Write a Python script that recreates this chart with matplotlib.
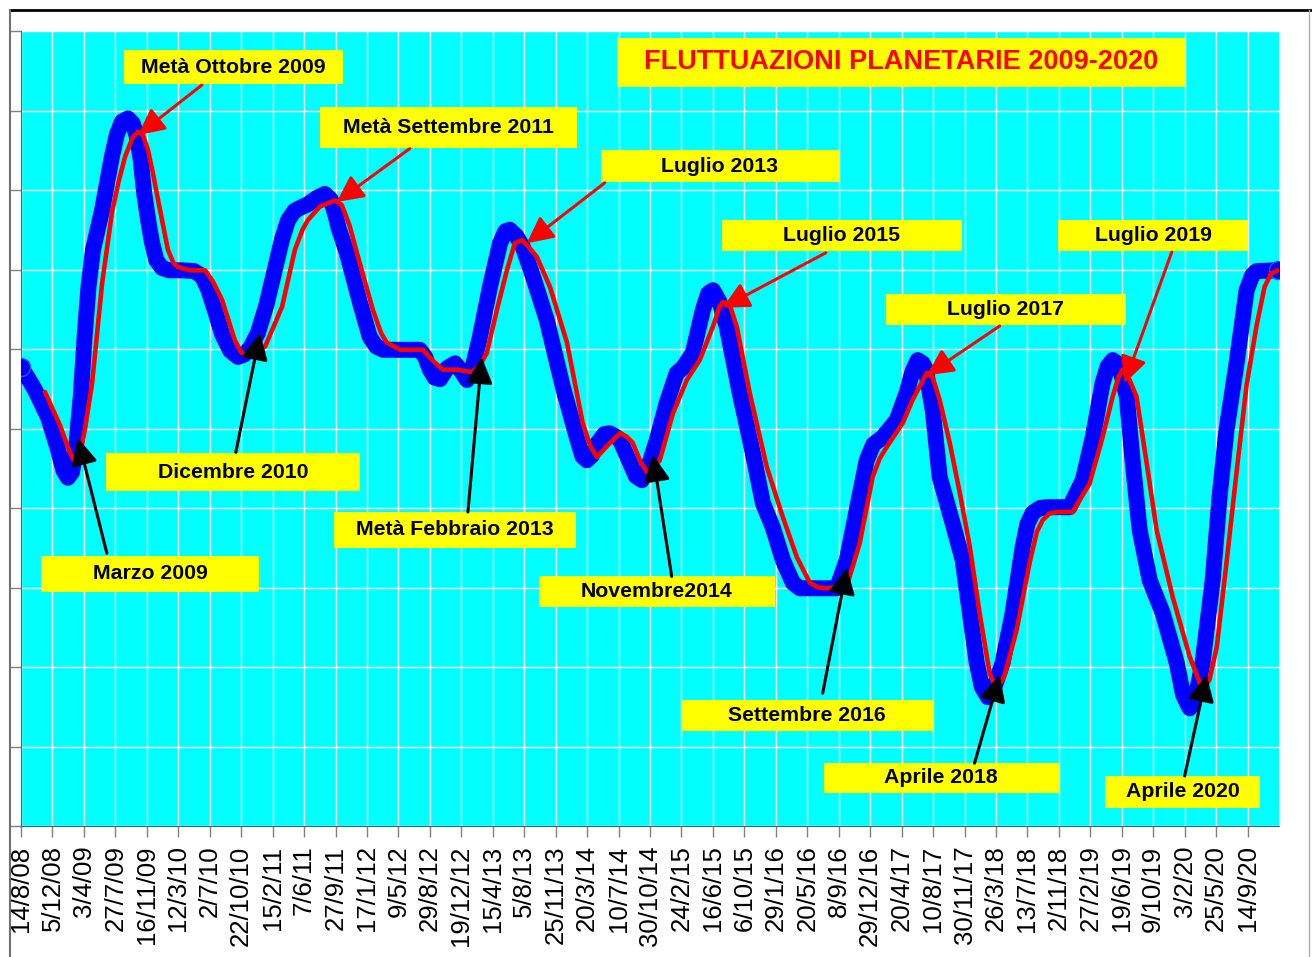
import matplotlib.pyplot as plt
from matplotlib.patches import Rectangle
from matplotlib.lines import Line2D

plt.rcParams["font.family"] = "Liberation Sans"

####### Dati: etichette asse x (una ogni ~16 settimane)
date_labels = ['14/8/08', '5/12/08', '3/4/09', '27/7/09', '16/11/09', '12/3/10',
               '2/7/10', '22/10/10', '15/2/11', '7/6/11', '27/9/11', '17/1/12',
               '9/5/12', '29/8/12', '19/12/12', '15/4/13', '5/8/13', '25/11/13',
               '20/3/14', '10/7/14', '30/10/14', '24/2/15', '16/6/15', '6/10/15',
               '29/1/16', '20/5/16', '8/9/16', '29/12/16', '20/4/17', '10/8/17',
               '30/11/17', '26/3/18', '13/7/18', '2/11/18', '27/2/19', '19/6/19',
               '9/10/19', '3/2/20', '25/5/20', '14/9/20']

# serie blu (posizione in intervalli dell'asse, valore)
blue_x = [0.00, 0.20, 0.45, 0.86, 1.18, 1.35, 1.49, 1.62, 1.75, 1.90, 2.03, 2.15,
          2.29, 2.58, 2.89, 3.05, 3.21, 3.40, 3.55, 3.68, 3.80, 3.92, 4.05, 4.16,
          4.30, 4.48, 4.70, 5.12, 5.50, 5.75, 5.95, 6.17, 6.40, 6.65, 6.90, 7.10,
          7.30, 7.53, 7.80, 8.07, 8.30, 8.49, 8.70, 8.90, 9.12, 9.40, 9.66, 9.85,
          10.00, 10.10, 10.36, 10.78, 11.09, 11.30, 11.51, 12.68, 12.85, 13.00,
          13.15, 13.32, 13.55, 13.80, 14.00, 14.18, 14.35, 14.59, 14.91, 15.23,
          15.40, 15.54, 15.75, 15.96, 16.28, 16.72, 17.23, 17.67, 17.85, 17.99,
          18.15, 18.34, 18.55, 18.72, 18.90, 19.04, 19.36, 19.55, 19.74, 19.95,
          20.22, 20.53, 20.85, 21.04, 21.36, 21.68, 21.85, 22.00, 22.20, 22.44,
          22.85, 23.27, 23.59, 23.90, 24.22, 24.54, 24.76, 25.94, 26.26, 26.57,
          26.89, 27.10, 27.40, 27.85, 28.16, 28.35, 28.51, 28.67, 28.77, 28.99,
          29.21, 29.53, 29.94, 30.17, 30.39, 30.55, 30.74, 30.95, 31.21, 31.53,
          31.85, 32.00, 32.17, 32.40, 32.61, 33.34, 33.76, 34.08, 34.39, 34.55,
          34.71, 34.85, 34.97, 35.16, 35.35, 35.57, 35.89, 36.30, 36.75, 36.95,
          37.16, 37.35, 37.57, 37.89, 38.11, 38.33, 38.65, 38.97, 39.15, 39.29,
          39.96]
blue_y = [5.77, 5.65, 5.48, 5.14, 4.73, 4.47, 4.38, 4.45, 4.75, 5.40, 6.20, 6.80,
          7.25, 7.75, 8.42, 8.70, 8.86, 8.90, 8.84, 8.68, 8.40, 7.95, 7.60, 7.35,
          7.12, 7.02, 6.99, 6.99, 6.98, 6.92, 6.75, 6.48, 6.18, 5.98, 5.90, 5.93,
          6.02, 6.20, 6.55, 7.00, 7.38, 7.62, 7.74, 7.78, 7.82, 7.90, 7.95, 7.88,
          7.68, 7.52, 7.21, 6.58, 6.15, 6.03, 5.99, 5.99, 5.90, 5.74,
          5.64, 5.62, 5.76, 5.82, 5.72, 5.61, 5.75, 6.15, 6.78, 7.33,
          7.48, 7.50, 7.42, 7.28, 6.91, 6.36, 5.52, 4.89, 4.65, 4.60,
          4.66, 4.82, 4.93, 4.94, 4.90, 4.86, 4.57, 4.40, 4.35, 4.52,
          4.86, 5.32, 5.70, 5.76, 5.95, 6.49, 6.70, 6.74, 6.60, 6.28,
          5.45, 4.69, 4.06, 3.76, 3.35, 3.06, 2.99, 2.99, 3.35, 3.97,
          4.60, 4.80, 4.89, 5.11, 5.45, 5.72, 5.86, 5.82, 5.74, 5.23,
          4.39, 3.94, 3.35, 2.68, 2.05, 1.75, 1.62, 1.75, 2.05, 2.68,
          3.51, 3.80, 3.94, 4.00, 4.01, 4.01, 4.35, 4.89, 5.57, 5.78,
          5.86, 5.82, 5.71, 5.40, 4.57, 3.72, 3.09, 2.68, 2.05, 1.65,
          1.48, 1.62, 2.05, 3.09, 4.14, 4.98, 5.82, 6.74, 6.93, 6.98,
          6.99]

# serie rossa (media ritardata)
red_x = [0.76, 1.24, 1.55, 1.72, 1.88, 2.03, 2.26, 2.58, 2.89, 3.10, 3.31, 3.55,
         3.72, 3.88, 4.04, 4.20, 4.36, 4.67, 4.85, 4.99, 5.37, 5.85, 6.10, 6.39,
         6.80, 6.98, 7.12, 7.40, 7.76, 8.30, 8.71, 8.95, 9.12, 9.50, 9.98, 10.20,
         10.45, 10.68, 11.19, 11.45, 11.63, 12.05, 12.78, 13.10, 13.41, 13.86,
         14.34, 14.60, 14.81, 15.13, 15.45, 15.70, 15.93, 16.15, 16.40, 16.82,
         17.36, 17.86, 18.10, 18.31, 18.66, 19.04, 19.25, 19.45, 19.70, 19.90,
         20.10, 20.31, 20.73, 21.17, 21.58, 22.00, 22.20, 22.31, 22.45, 22.54,
         22.76, 23.17, 23.71, 24.22, 24.67, 25.08, 25.35, 25.62, 26.26, 26.67,
         27.08, 27.30, 27.53, 28.04, 28.35, 28.80, 28.99, 29.21, 29.53, 29.85,
         30.17, 30.48, 30.80, 31.02, 31.28, 31.66, 32.07, 32.30, 32.49, 32.70,
         32.93, 33.44, 33.98, 34.39, 34.71, 34.90, 35.03, 35.25, 35.47, 35.79,
         36.11, 36.62, 37.16, 37.57, 37.79, 38.02, 38.33, 38.65, 38.97, 39.29,
         39.54, 39.75, 39.96]
red_y = [5.46, 5.04, 4.70, 4.57, 4.70, 4.98, 5.57, 6.83, 7.71, 8.10, 8.42, 8.66,
         8.73, 8.69, 8.50, 8.20, 7.87, 7.25, 7.08, 7.03, 6.99, 6.99, 6.85, 6.62,
         6.11, 5.97, 5.92, 5.95, 6.03, 6.53, 7.25, 7.50, 7.62, 7.79, 7.87, 7.81,
         7.55, 7.21, 6.49, 6.20, 6.08, 5.99, 5.99, 5.85, 5.74, 5.74,
         5.71, 5.80, 5.95, 6.49, 6.99, 7.33, 7.37, 7.28, 7.16, 6.78,
         6.08, 5.07, 4.78, 4.64, 4.79, 4.94, 4.90, 4.82, 4.58, 4.45,
         4.50, 4.60, 5.19, 5.61, 5.86, 6.28, 6.52, 6.59, 6.58, 6.55,
         6.28, 5.45, 4.52, 3.89, 3.38, 3.06, 3.00, 2.99, 3.02, 3.56,
         4.39, 4.62, 4.77, 5.07, 5.36, 5.70, 5.64, 5.36, 4.82, 4.19,
         3.51, 2.68, 1.92, 1.71, 1.90, 2.47, 3.31, 3.70, 3.85, 3.93,
         3.95, 3.95, 4.31, 4.89, 5.40, 5.65, 5.74, 5.61, 5.40, 4.57,
         3.72, 2.88, 2.13, 1.71, 1.84, 2.25, 3.31, 4.45, 5.55, 6.30,
         6.78, 6.95, 6.99]

# etichette: testo, riquadro (x0, x1, y0, y1), inizio freccia, punta freccia, colore freccia
labels = [
    ('Metà Ottobre 2009',    (3.27, 10.24, 9.33, 9.76), (5.75, 9.32), (3.72, 8.69), 'red'),
    ('Metà Settembre 2011',  (9.50, 17.67, 8.53, 9.04), (12.36, 8.52), (10.04, 7.85), 'red'),
    ('Luglio 2013',          (18.44, 26.00, 8.10, 8.50), (18.56, 8.09), (16.08, 7.33), 'red'),
    ('Luglio 2015',          (22.28, 29.91, 7.23, 7.62), (25.59, 7.21), (22.31, 6.52), 'red'),
    ('Luglio 2017',          (27.50, 35.12, 6.30, 6.69), (31.12, 6.29), (28.80, 5.67), 'red'),
    ('Luglio 2019',          (32.96, 39.03, 7.23, 7.62), (36.59, 7.22), (35.09, 5.57), 'red'),
    ('Dicembre 2010',        (2.70, 10.78, 4.21, 4.69), (6.83, 4.70), (7.60, 6.20), 'black'),
    ('Marzo 2009',           (0.64, 7.57, 2.94, 3.40), (2.73, 3.43), (1.81, 4.88), 'black'),
    ('Metà Febbraio 2013',   (9.95, 17.64, 3.50, 3.95), (14.21, 3.95), (14.65, 5.90), 'black'),
    ('Novembre2014',         (16.47, 23.97, 2.75, 3.14), (20.69, 3.14), (20.09, 4.67), 'black'),
    ('Settembre 2016',       (20.98, 29.02, 1.19, 1.58), (25.49, 1.67), (26.26, 3.25), 'black'),
    ('Aprile 2018',          (25.52, 32.99, 0.42, 0.79), (30.32, 0.79), (31.12, 1.90), 'black'),
    ('Aprile 2020',          (34.46, 39.41, 0.23, 0.63), (37.00, 0.63), (37.70, 1.90), 'black'),
]
title_text = 'FLUTTUAZIONI PLANETARIE 2009-2020'
title_box = (18.94, 37.00, 9.30, 9.91)


fig = plt.figure(figsize=(13.12, 9.57), dpi=100)
ax = fig.add_axes([21/1312, 131/957, 1258/1312, 795/957])
ax.set_facecolor('#00FFFF')

####### Curve
ax.plot(blue_x, blue_y, '-', color='#0000FF', linewidth=11.5,
        solid_capstyle='round', solid_joinstyle='round', zorder=3,
        marker='o', markevery=[0, -1], markersize=13,
        markerfacecolor='#0000FF', markeredgecolor='#3355FF')
ax.plot(red_x, red_y, '-', color='#FF0000', linewidth=3.3,
        solid_joinstyle='round', solid_capstyle='round', zorder=4)

####### Assi
ax.set_xlim(0, 40)
ax.set_ylim(0, 10)
ax.set_xticks(range(len(date_labels)))
ax.set_xticklabels(date_labels, rotation=90, fontsize=18.5, va='top', ha='center')
ax.set_yticks(range(11))
ax.set_yticklabels([])
ax.tick_params(axis='both', direction='out', length=8, color='#808080', width=1)
ax.tick_params(axis='x', pad=6)
ax.grid(True, color='white', linewidth=1.0)
ax.set_axisbelow(True)
for s in ['top', 'right']:
    ax.spines[s].set_visible(False)
ax.spines['left'].set_color('#606060')
ax.spines['bottom'].set_color('#2a6f6f')

####### Riquadri gialli e frecce
for testo, (x0, x1, y0, y1), start, tip, col in labels:
    ax.add_patch(Rectangle((x0, y0), x1 - x0, y1 - y0, facecolor='#FFFF00',
                           edgecolor='none', zorder=5, clip_on=False))
    ax.text((x0 + x1) / 2, (y0 + y1) / 2, testo, ha='center', va='center',
            fontsize=15.3, fontweight='bold', color='black', zorder=6)
    ax.annotate('', xy=tip, xytext=start, zorder=7,
                arrowprops=dict(arrowstyle='-|>,head_length=0.8,head_width=0.4',
                                mutation_scale=20, color=col, lw=2.2,
                                shrinkA=0, shrinkB=0))

x0, x1, y0, y1 = title_box
ax.add_patch(Rectangle((x0, y0), x1 - x0, y1 - y0, facecolor='#FFFF00',
                       edgecolor='none', zorder=5))
ax.text((x0 + x1) / 2, (y0 + y1) / 2, title_text, ha='center', va='center',
        fontsize=19.5, fontweight='bold', color='red', zorder=6)

####### Cornice
fig.add_artist(Line2D([10/1312, 1], [1 - 10/957, 1 - 10/957], color='black', lw=2))
fig.add_artist(Line2D([10/1312, 10/1312], [0, 1 - 10/957], color='#707070', lw=1.5))
fig.add_artist(Line2D([1309/1312, 1309/1312], [0, 1 - 10/957], color='#b0b0b0', lw=1))

plt.savefig('out.png', dpi=100)
